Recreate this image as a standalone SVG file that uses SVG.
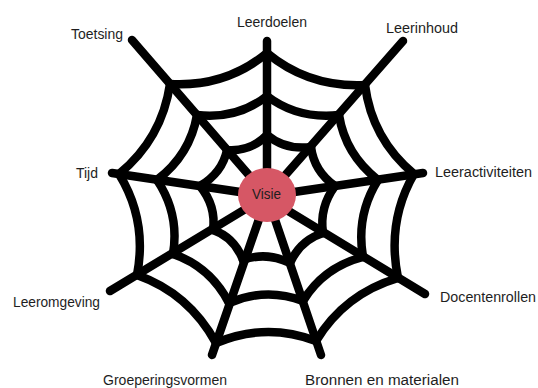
<svg xmlns="http://www.w3.org/2000/svg" width="538" height="388" viewBox="0 0 538 388">
<style>
.web{fill:none;stroke:#000;stroke-width:8.5;stroke-linecap:round;stroke-linejoin:round}
.lbl{font-family:"Liberation Sans",Arial,sans-serif;font-size:14px;fill:#1e1e1e}
</style>
<rect width="538" height="388" fill="#fff"/>
<g id="connectors" class="web">
<path d="M267,196 L267,41"/>
<path d="M267,196 L403,41"/>
<path d="M267,196 L423,173"/>
<path d="M267,198 L425,294"/>
<path d="M267,196 L321,355"/>
<path d="M267,196 L212,355"/>
<path d="M267,196 L110,291"/>
<path d="M267,196 L112,173"/>
<path d="M267,196 L132,40"/>
<path d="M227,150 Q250.5,151.9 267,135"/>
<path d="M197,115 Q237.4,119.5 267,96"/>
<path d="M170,84 Q225.6,87.3 267,53"/>
<path d="M267,135 Q285.3,150.3 311,147"/>
<path d="M267,96 Q297.5,119.4 339,115"/>
<path d="M267,53 Q308.8,87.7 365,85"/>
<path d="M311,147 Q314.1,171.2 335,186"/>
<path d="M339,115 Q345.3,154.5 378,180"/>
<path d="M365,85 Q371.9,139 414,174"/>
<path d="M335,186 Q319.2,207.4 323,233"/>
<path d="M378,180 Q355.8,215.3 363,257"/>
<path d="M414,174 Q386.5,221.8 398,278"/>
<path d="M323,233 Q300.5,240 290,263"/>
<path d="M363,257 Q323.7,267.2 303,301"/>
<path d="M398,278 Q344.6,293.8 316,341"/>
<path d="M290,263 Q266.5,251.5 243,260"/>
<path d="M303,301 Q266,287 229,303"/>
<path d="M316,341 Q266,322 216,343"/>
<path d="M243,260 Q234.2,237.1 213,230"/>
<path d="M229,303 Q210.4,266.8 173,254"/>
<path d="M216,343 Q189,293.4 137,275"/>
<path d="M213,230 Q216.3,206 200,186"/>
<path d="M173,254 Q179.7,214 157,180"/>
<path d="M137,275 Q147.6,220.5 119,174"/>
<path d="M200,186 Q222.4,172.6 227,150"/>
<path d="M157,180 Q190.2,154.6 197,115"/>
<path d="M119,174 Q162,138.6 170,84"/>
</g>
<g id="visie">
<ellipse cx="267" cy="195" rx="29" ry="27" fill="#d65765"/>
<text class="lbl" x="252" y="199" textLength="29" lengthAdjust="spacingAndGlyphs">Visie</text>
</g>
<g id="leerdoelen"><text class="lbl" x="237" y="27" textLength="70" lengthAdjust="spacingAndGlyphs">Leerdoelen</text></g>
<g id="leerinhoud"><text class="lbl" x="386" y="33" textLength="72" lengthAdjust="spacingAndGlyphs">Leerinhoud</text></g>
<g id="toetsing"><text class="lbl" x="71" y="39" textLength="52" lengthAdjust="spacingAndGlyphs">Toetsing</text></g>
<g id="tijd"><text class="lbl" x="76" y="178" textLength="22" lengthAdjust="spacingAndGlyphs">Tijd</text></g>
<g id="leeractiviteiten"><text class="lbl" x="435" y="177" textLength="97" lengthAdjust="spacingAndGlyphs">Leeractiviteiten</text></g>
<g id="leeromgeving"><text class="lbl" x="13" y="307" textLength="87" lengthAdjust="spacingAndGlyphs">Leeromgeving</text></g>
<g id="docentenrollen"><text class="lbl" x="440" y="302" textLength="96" lengthAdjust="spacingAndGlyphs">Docentenrollen</text></g>
<g id="groeperingsvormen"><text class="lbl" x="103" y="385" textLength="124" lengthAdjust="spacingAndGlyphs">Groeperingsvormen</text></g>
<g id="bronnen"><text class="lbl" x="305" y="385" textLength="154" lengthAdjust="spacingAndGlyphs">Bronnen en materialen</text></g>
</svg>
